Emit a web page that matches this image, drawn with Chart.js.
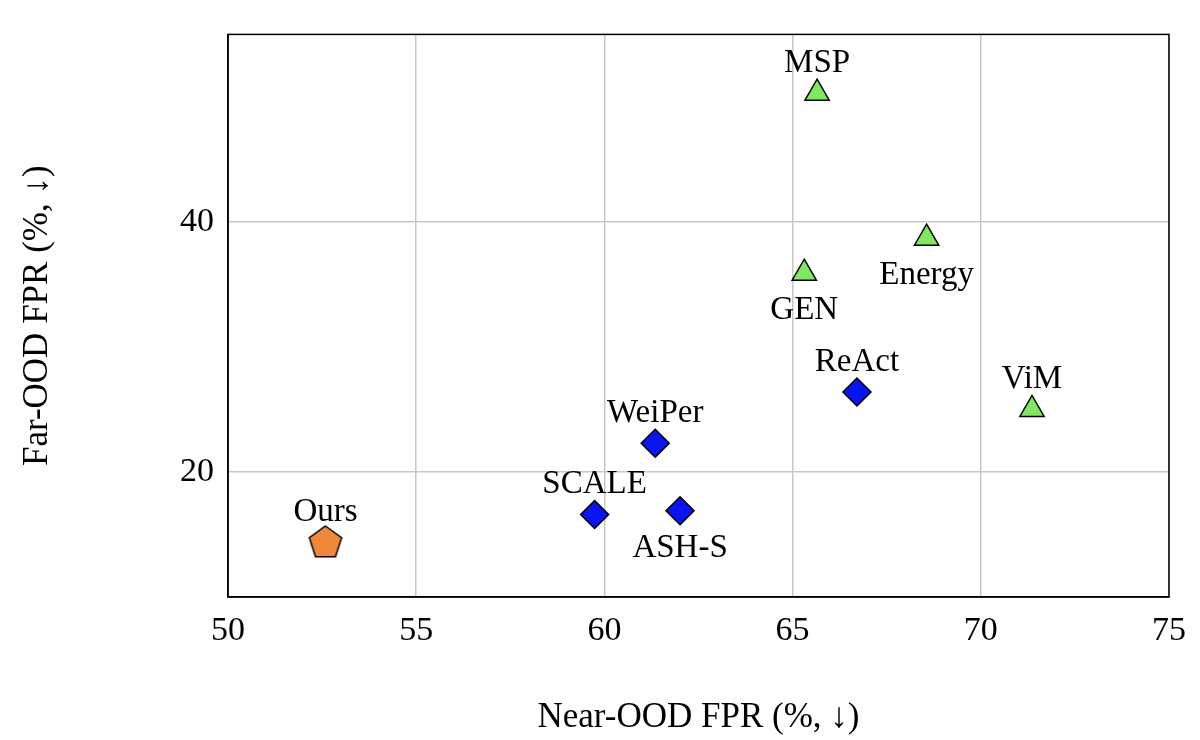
<!DOCTYPE html>
<html><head><meta charset="utf-8">
<script src="https://cdn.jsdelivr.net/npm/chart.js@4"></script>
<style>html,body{margin:0;padding:0;background:#fff}#w{width:1200px;height:740px}</style>
</head><body><div id="w"><canvas id="c"></canvas></div>
<script>
const methods = ['MSP','Energy','GEN','ViM','ReAct','WeiPer','SCALE','ASH-S','Ours'];
const nearFPR = [65.65,68.56,65.31,71.36,66.71,61.35,59.74,62.01,52.59];
const farFPR  = [50.3,38.7,35.9,25.0,26.4,22.3,16.6,16.9,14.4];
const groups  = ['tri','tri','tri','tri','dia','dia','dia','dia','pent'];
const labelPos = ['above','below','below','above','above','above','above','below','above'];
const xTicks = [50,55,60,65,70,75];
const yTicks = [20,40];
const FONT = '"Liberation Serif", "DejaVu Serif", serif';

function pentagon(size, fill){
  const c=document.createElement('canvas'); c.width=size+4; c.height=size+4;
  const g=c.getContext('2d'); const cx=c.width/2, cy=c.height/2+1, r=size/2;
  g.beginPath();
  for(let i=0;i<5;i++){const a=-Math.PI/2+i*2*Math.PI/5; const px=cx+r*Math.cos(a), py=cy+r*Math.sin(a); i?g.lineTo(px,py):g.moveTo(px,py);}
  g.closePath(); g.fillStyle=fill; g.fill(); g.lineWidth=1.5; g.strokeStyle='#000'; g.stroke(); return c;
}
const pent = pentagon(34,'#f0883a');

function ds(kind){
  const idx = methods.map((m,i)=>i).filter(i=>groups[i]===kind);
  const base = {data: idx.map(i=>({x:nearFPR[i],y:farFPR[i],label:methods[i],pos:labelPos[i]})), borderColor:'#000', borderWidth:1.5};
  if(kind==='tri') return Object.assign(base,{pointStyle:'triangle',backgroundColor:'#80e860',pointRadius:14});
  if(kind==='dia') return Object.assign(base,{pointStyle:'rectRot',backgroundColor:'#0a14f0',pointRadius:14});
  return Object.assign(base,{pointStyle:pent,pointRadius:17});
}

const labels = {id:'labels', afterDatasetsDraw(ch){
  const g=ch.ctx; g.save(); g.font='33px '+FONT; g.fillStyle='#000'; g.textAlign='center';
  ch.data.datasets.forEach((d,di)=>{ ch.getDatasetMeta(di).data.forEach((el,i)=>{
    const p=d.data[i]; const yy = p.pos==='above' ? el.y-21 : el.y+46;
    g.fillText(p.label, el.x, yy); }); });
  g.font='35px '+FONT;
  g.fillText('Near-OOD FPR (%, \u2193)', (ch.chartArea.left+ch.chartArea.right)/2, 727);
  g.translate(47,(ch.chartArea.top+ch.chartArea.bottom)/2); g.rotate(-Math.PI/2);
  g.fillText('Far-OOD FPR (%, \u2193)',0,0);
  g.restore();
}};

new Chart(document.getElementById('c'),{
  type:'scatter',
  data:{datasets:[ds('tri'),ds('dia'),ds('pent')]},
  options:{responsive:true,maintainAspectRatio:false,animation:false,
    layout:{padding:{top:4,right:25,left:0,bottom:0}},
    plugins:{legend:{display:false},tooltip:{enabled:false}},
    scales:{
      x:{min:50,max:75,afterBuildTicks:s=>{s.ticks=xTicks.map(v=>({value:v}));},
        afterFit:s=>{s.height=143;},
        border:{color:'#000',width:1.5},
        grid:{color:'#c8c8c8',lineWidth:1.5,drawTicks:false},
        ticks:{color:'#000',font:{family:FONT,size:34},padding:14}},
      y:{min:10,max:55,afterBuildTicks:s=>{s.ticks=yTicks.map(v=>({value:v}));},
        afterFit:s=>{s.width=228;},
        border:{color:'#000',width:1.5},
        grid:{color:'#c8c8c8',lineWidth:1.5,drawTicks:false},
        ticks:{color:'#000',font:{family:FONT,size:34},padding:14}}
    }},
  plugins:[labels,{id:'frame',afterDraw(ch){const a=ch.chartArea,g=ch.ctx;g.save();g.strokeStyle='#000';g.lineWidth=1.5;g.strokeRect(a.left,a.top,a.right-a.left,a.bottom-a.top);g.restore();}}]
});
</script></body></html>
